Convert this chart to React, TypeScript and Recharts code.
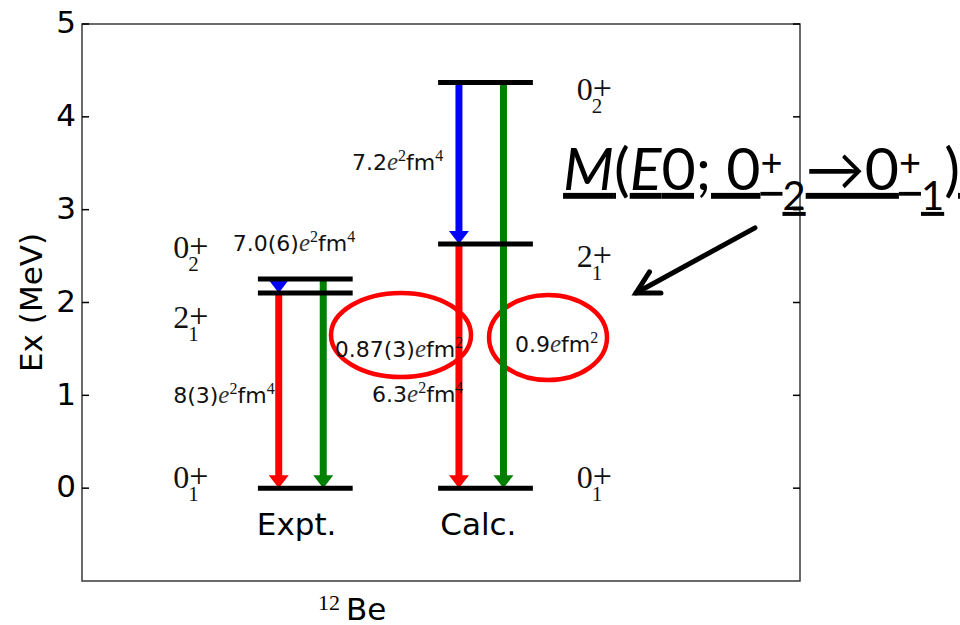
import React from "react";
import {
  ComposedChart,
  XAxis,
  YAxis,
  Scatter,
  ReferenceLine,
  ReferenceDot,
  ReferenceArea,
} from "recharts";

// ---- data (MeV) ----
const columns = ["Expt.", "Calc."];
// states: [spin, index]
const states: [string, string][] = [
  ["0", "1"],
  ["2", "1"],
  ["0", "2"],
];
const exptLevels = [0, 2.103, 2.254];
const calcLevels = [0, 2.63, 4.37];
// transitions: [from state, to state]
const transitions: [number, number][] = [
  [2, 1], // 0+2 -> 2+1  (E2)
  [1, 0], // 2+1 -> 0+1  (E2)
  [2, 0], // 0+2 -> 0+1  (E0)
];
const exptStrengths = ["7.0(6)", "8(3)", "0.87(3)"];
const calcStrengths = ["7.2", "6.3", "0.9"];
// [power of e, unit, power of fm]
const strengthUnits: [string, string, string][] = [
  ["2", "fm", "4"],
  ["2", "fm", "4"],
  ["", "fm", "2"],
];
const yTicks = [0, 1, 2, 3, 4, 5];

// ---- layout (x in 0..10, y in MeV) ----
const colSpan = [
  [2.45, 3.77],
  [4.96, 6.28],
];
const arrowOffset = [0.29, 0.29, 0.91];
const arrowColor = ["#0000ff", "#ff0000", "#008000"];
const strengthPos = [
  [
    [2.1, 2.556],
    [1.27, 0.917],
    [3.52, 1.413],
  ],
  [
    [3.76, 3.43],
    [4.04, 0.927],
    [6.03, 1.466],
  ],
];
const stateLabelX = [1.27, 6.89];
const stateLabelY = [
  [0, 1.725, 2.48],
  [0, 2.38, 4.18],
];
const colLabelX = [2.99, 5.52];
const colLabelY = -0.507;
const circles = [
  { x1: 3.468, x2: 5.418, y1: 1.197, y2: 2.103 },
  { x1: 5.669, x2: 7.312, y1: 1.165, y2: 2.081 },
];

const levelSets = [exptLevels, calcLevels];
const strengthSets = [exptStrengths, calcStrengths];
const anchorPoints = levelSets.flatMap((lv, c) =>
  lv.map((e) => ({ x: (colSpan[c][0] + colSpan[c][1]) / 2, y: e }))
);

const SANS = "'DejaVu Sans', sans-serif";
const SERIF = "'Liberation Serif', 'DejaVu Serif', serif";
const CALLOUT = "Lato, 'Open Sans', sans-serif";

const LeftTick = (props: any) => {
  const { x, y, payload } = props;
  return (
    <g>
      <line x1={x} x2={x + 7} y1={y} y2={y} stroke="#000" strokeWidth={1.5} />
      <text x={x - 6} y={y} dy="0.3em" textAnchor="end" fontFamily={SANS} fontSize={31} fill="#000">
        {payload.value}
      </text>
    </g>
  );
};

const RightTick = (props: any) => {
  const { x, y } = props;
  return <line x1={x} x2={x - 7} y1={y} y2={y} stroke="#000" strokeWidth={1.5} />;
};

const YLabel = (props: any) => {
  const vb = props.viewBox || { x: 0, y: 24, width: 82, height: 557 };
  const cx = vb.x + 42;
  const cy = vb.y + vb.height / 2;
  return (
    <text x={cx} y={cy} textAnchor="middle" transform={`rotate(-90, ${cx}, ${cy})`} fontFamily={SANS} fontSize={31} fill="#000">
      Ex (MeV)
    </text>
  );
};

const XLabel = (props: any) => {
  const vb = props.viewBox || { x: 82, y: 581, width: 718, height: 44 };
  const x = vb.x + 236;
  const y = vb.y + 39;
  return (
    <text x={x} y={y} fontFamily={SANS} fontSize={31} fill="#000">
      <tspan fontFamily={SERIF} fontSize={22} dy={-10}>12</tspan>
      <tspan dx={6} dy={10}>Be</tspan>
    </text>
  );
};

const makeArrow = (color: string) => (props: any) => {
  const { x1, y1, x2, y2 } = props;
  const head = 13;
  const half = 10;
  const shaftEnd = Math.max(y1, y2 - head);
  return (
    <g>
      <line x1={x1} y1={y1} x2={x1} y2={shaftEnd + 1} stroke={color} strokeWidth={7} />
      <polygon points={`${x2 - half},${y2 - head} ${x2 + half},${y2 - head} ${x2},${y2}`} fill={color} />
    </g>
  );
};

const StateLabel = (spin: string, idx: string) => (props: any) => {
  const { cx, cy } = props;
  return (
    <text x={cx} y={cy} fontFamily={SERIF} fontSize={32} fill="#111">
      {spin}
      <tspan x={cx + 15} y={cy + 13} fontSize={21}>{idx}</tspan>
      <tspan x={cx + 16} y={cy - 1} fontSize={34}>+</tspan>
    </text>
  );
};

const StrengthLabel = (value: string, unit: [string, string, string]) => (props: any) => {
  const { cx, cy } = props;
  const [eExp, fm, fmExp] = unit;
  return (
    <text x={cx} y={cy} fontFamily={SANS} fontSize={22} fill="#111">
      {value}
      <tspan fontFamily={SERIF} fontStyle="italic" fontSize={25} fill="#333">e</tspan>
      {eExp ? (
        <tspan fontFamily={SERIF} fontSize={16} dy={-9}>{eExp}</tspan>
      ) : null}
      <tspan dy={eExp ? 9 : 0}>{fm}</tspan>
      <tspan fontFamily={SERIF} fontSize={16} dy={-9}>{fmExp}</tspan>
    </text>
  );
};

const ColumnLabel = (text: string) => (props: any) => (
  <text x={props.cx} y={props.cy} textAnchor="middle" fontFamily={SANS} fontSize={31} fill="#000">
    {text}
  </text>
);

const Ellipse = (props: any) => {
  const { x, y, width, height } = props;
  return (
    <ellipse cx={x + width / 2} cy={y + height / 2} rx={width / 2} ry={height / 2} fill="none" stroke="#ff0000" strokeWidth={4.5} />
  );
};

// M(E0; 0+_2 -> 0+_1), underlined; "+" is raised without its own underline
const Annotation = (props: any) => {
  const { cx, cy } = props;
  const body = (raise: boolean) => {
    const sup = raise ? { dy: -14 } : { fillOpacity: 0 };
    const back = raise ? 14 : 0;
    const bodyFill = raise ? { fillOpacity: 0 } : {};
    return (
      <>
        <tspan fontStyle="italic" {...bodyFill}>M</tspan>
        <tspan {...bodyFill}>(</tspan>
        <tspan fontStyle="italic" {...bodyFill}>E</tspan>
        <tspan {...bodyFill}>0; 0</tspan>
        <tspan fontSize={38} {...sup}>+</tspan>
        <tspan fontSize={40} dy={back + 20} {...bodyFill}>2</tspan>
        <tspan dy={-20} {...bodyFill}>→0</tspan>
        <tspan fontSize={38} {...sup}>+</tspan>
        <tspan fontSize={40} dy={back + 20} {...bodyFill}>1</tspan>
        <tspan dy={-20} {...bodyFill}>)</tspan>
      </>
    );
  };
  return (
    <g>
      <text x={cx} y={cy} fontFamily={CALLOUT} fontSize={59} fill="#000" style={{ textDecoration: "underline" }}>
        {body(false)}
      </text>
      <text x={cx} y={cy} fontFamily={CALLOUT} fontSize={59} fill="#000">
        {body(true)}
      </text>
    </g>
  );
};

const PointerArrow = (props: any) => {
  const { x1, y1, x2, y2 } = props;
  const ang = Math.atan2(y1 - y2, x1 - x2);
  const len = 25;
  const spread = 0.5;
  const ax = x2 + len * Math.cos(ang - spread);
  const ay = y2 + len * Math.sin(ang - spread);
  const bx = x2 + len * Math.cos(ang + spread);
  const by = y2 + len * Math.sin(ang + spread);
  return (
    <g stroke="#000" strokeWidth={5} strokeLinecap="round" fill="none">
      <line x1={x1} y1={y1} x2={x2} y2={y2} />
      <polyline points={`${ax},${ay} ${x2},${y2} ${bx},${by}`} strokeLinejoin="miter" />
    </g>
  );
};

export default function App() {
  return (
    <div style={{ position: "absolute", left: 0, top: 0, background: "#fff" }}>
      <ComposedChart width={960} height={625} data={anchorPoints} margin={{ top: 24, right: 159, bottom: 0, left: 0 }}>
        <XAxis
          type="number"
          dataKey="x"
          domain={[0, 10]}
          allowDataOverflow
          tick={false}
          tickLine={false}
          axisLine={false}
          height={44}
          label={{ content: XLabel }}
        />
        <YAxis
          type="number"
          domain={[-1, 5]}
          allowDataOverflow
          ticks={yTicks}
          width={82}
          axisLine={false}
          tickLine={false}
          tickSize={0}
          tickMargin={0}
          tick={LeftTick}
          label={{ content: YLabel }}
        />
        <YAxis
          yAxisId="right"
          orientation="right"
          type="number"
          domain={[-1, 5]}
          allowDataOverflow
          ticks={yTicks}
          width={1}
          axisLine={false}
          tickLine={false}
          tickSize={0}
          tickMargin={0}
          tick={RightTick}
        />
        <ReferenceArea x1={0} x2={10} y1={-1} y2={5} fill="none" stroke="#3a3a3a" strokeWidth={1.5} />
        <Scatter dataKey="y" isAnimationActive={false} shape={() => <g />} />

        {/* transitions */}
        {levelSets.map((lv, c) =>
          transitions.map(([from, to], t) => {
            const x = colSpan[c][0] + arrowOffset[t];
            return (
              <ReferenceLine
                key={`tr-${c}-${t}`}
                segment={[
                  { x, y: lv[from] },
                  { x, y: lv[to] },
                ]}
                stroke={arrowColor[t]}
                shape={makeArrow(arrowColor[t])}
              />
            );
          })
        )}

        {/* levels */}
        {levelSets.map((lv, c) =>
          lv.map((e, i) => (
            <ReferenceLine
              key={`lv-${c}-${i}`}
              segment={[
                { x: colSpan[c][0], y: e },
                { x: colSpan[c][1], y: e },
              ]}
              stroke="#000"
              strokeWidth={5}
            />
          ))
        )}

        {/* state labels */}
        {stateLabelY.map((ys, c) =>
          states.map(([spin, idx], i) => (
            <ReferenceDot
              key={`st-${c}-${i}`}
              x={stateLabelX[c]}
              y={ys[i]}
              r={0}
              ifOverflow="visible"
              shape={StateLabel(spin, idx)}
            />
          ))
        )}

        {/* transition strengths */}
        {strengthSets.map((vals, c) =>
          vals.map((v, t) => (
            <ReferenceDot
              key={`sv-${c}-${t}`}
              x={strengthPos[c][t][0]}
              y={strengthPos[c][t][1]}
              r={0}
              ifOverflow="visible"
              shape={StrengthLabel(v, strengthUnits[t])}
            />
          ))
        )}

        {/* column labels */}
        {columns.map((name, c) => (
          <ReferenceDot key={`col-${c}`} x={colLabelX[c]} y={colLabelY} r={0} ifOverflow="visible" shape={ColumnLabel(name)} />
        ))}

        {/* highlight circles */}
        {circles.map((e, i) => (
          <ReferenceArea key={`el-${i}`} x1={e.x1} x2={e.x2} y1={e.y1} y2={e.y2} ifOverflow="visible" shape={Ellipse} />
        ))}

        {/* annotation */}
        <ReferenceDot x={6.7} y={3.213} r={0} ifOverflow="visible" shape={Annotation} />
        <ReferenceLine
          segment={[
            { x: 9.373, y: 2.804 },
            { x: 7.716, y: 2.103 },
          ]}
          ifOverflow="visible"
          shape={PointerArrow}
        />
      </ComposedChart>
    </div>
  );
}
